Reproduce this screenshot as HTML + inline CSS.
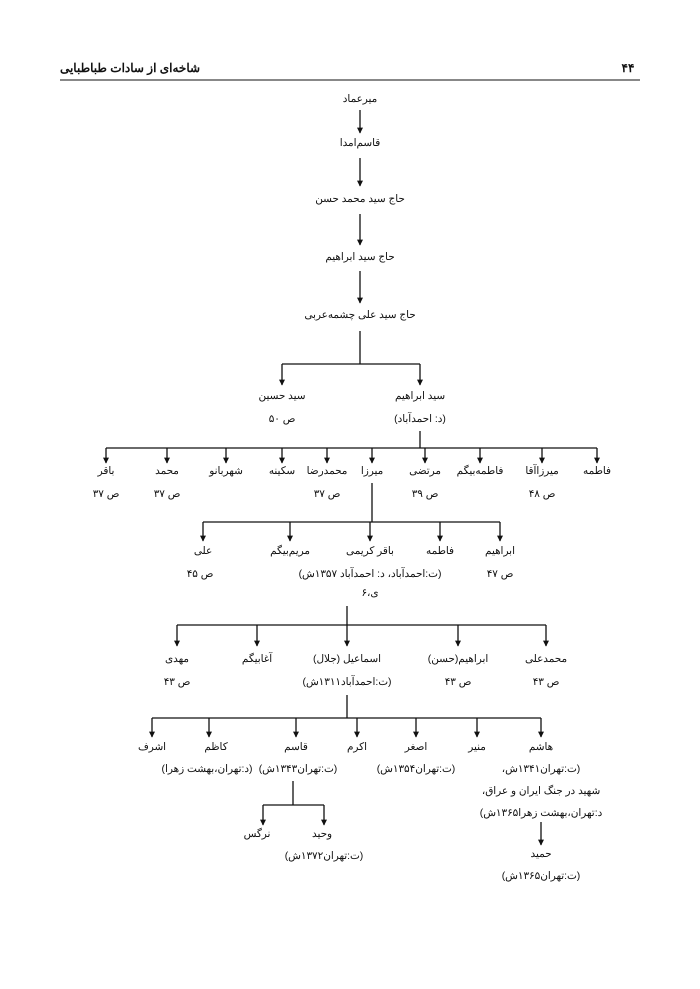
<!DOCTYPE html>
<html><head><meta charset="utf-8"><style>
html,body{margin:0;padding:0;background:#fff;}
body{position:relative;width:700px;height:989px;overflow:hidden;}
svg{display:block;position:absolute;left:0;top:0;}
.t{position:absolute;transform:translate(-50%,-50%);white-space:nowrap;direction:rtl;unicode-bidi:isolate;font-family:"Liberation Sans","Noto Sans CJK SC",sans-serif;font-size:10.4px;color:#111;line-height:1;}
.h{font-weight:bold;font-size:12px;}
line{stroke:#111;stroke-width:1.3;fill:none;}
</style></head><body>
<svg width="700" height="989" viewBox="0 0 700 989" xmlns="http://www.w3.org/2000/svg">
<defs><marker id="a" viewBox="0 0 10 10" refX="9" refY="5" markerWidth="6" markerHeight="8" orient="auto" markerUnits="userSpaceOnUse"><path d="M0,0 L10,5 L0,10 z" fill="#111"/></marker></defs>
<line x1="60" y1="80" x2="640" y2="80" style="stroke-width:1"/>
<line x1="360" y1="110" x2="360" y2="133" marker-end="url(#a)"/>
<line x1="360" y1="158" x2="360" y2="186" marker-end="url(#a)"/>
<line x1="360" y1="214" x2="360" y2="245" marker-end="url(#a)"/>
<line x1="360" y1="271" x2="360" y2="303" marker-end="url(#a)"/>
<line x1="360" y1="331" x2="360" y2="364"/>
<line x1="282" y1="364" x2="420" y2="364"/>
<line x1="282" y1="364" x2="282" y2="385" marker-end="url(#a)"/>
<line x1="420" y1="364" x2="420" y2="385" marker-end="url(#a)"/>
<line x1="420" y1="431" x2="420" y2="448"/>
<line x1="106" y1="448" x2="597" y2="448"/>
<line x1="106" y1="448" x2="106" y2="463" marker-end="url(#a)"/>
<line x1="167" y1="448" x2="167" y2="463" marker-end="url(#a)"/>
<line x1="226" y1="448" x2="226" y2="463" marker-end="url(#a)"/>
<line x1="282" y1="448" x2="282" y2="463" marker-end="url(#a)"/>
<line x1="327" y1="448" x2="327" y2="463" marker-end="url(#a)"/>
<line x1="372" y1="448" x2="372" y2="463" marker-end="url(#a)"/>
<line x1="425" y1="448" x2="425" y2="463" marker-end="url(#a)"/>
<line x1="480" y1="448" x2="480" y2="463" marker-end="url(#a)"/>
<line x1="542" y1="448" x2="542" y2="463" marker-end="url(#a)"/>
<line x1="597" y1="448" x2="597" y2="463" marker-end="url(#a)"/>
<line x1="372" y1="483" x2="372" y2="522"/>
<line x1="203" y1="522" x2="500" y2="522"/>
<line x1="203" y1="522" x2="203" y2="541" marker-end="url(#a)"/>
<line x1="290" y1="522" x2="290" y2="541" marker-end="url(#a)"/>
<line x1="370" y1="522" x2="370" y2="541" marker-end="url(#a)"/>
<line x1="440" y1="522" x2="440" y2="541" marker-end="url(#a)"/>
<line x1="500" y1="522" x2="500" y2="541" marker-end="url(#a)"/>
<line x1="347" y1="606" x2="347" y2="625"/>
<line x1="177" y1="625" x2="546" y2="625"/>
<line x1="177" y1="625" x2="177" y2="646" marker-end="url(#a)"/>
<line x1="257" y1="625" x2="257" y2="646" marker-end="url(#a)"/>
<line x1="347" y1="625" x2="347" y2="646" marker-end="url(#a)"/>
<line x1="458" y1="625" x2="458" y2="646" marker-end="url(#a)"/>
<line x1="546" y1="625" x2="546" y2="646" marker-end="url(#a)"/>
<line x1="347" y1="695" x2="347" y2="718"/>
<line x1="152" y1="718" x2="541" y2="718"/>
<line x1="152" y1="718" x2="152" y2="737" marker-end="url(#a)"/>
<line x1="209" y1="718" x2="209" y2="737" marker-end="url(#a)"/>
<line x1="296" y1="718" x2="296" y2="737" marker-end="url(#a)"/>
<line x1="357" y1="718" x2="357" y2="737" marker-end="url(#a)"/>
<line x1="416" y1="718" x2="416" y2="737" marker-end="url(#a)"/>
<line x1="477" y1="718" x2="477" y2="737" marker-end="url(#a)"/>
<line x1="541" y1="718" x2="541" y2="737" marker-end="url(#a)"/>
<line x1="293" y1="781" x2="293" y2="805"/>
<line x1="263" y1="805" x2="324" y2="805"/>
<line x1="263" y1="805" x2="263" y2="825" marker-end="url(#a)"/>
<line x1="324" y1="805" x2="324" y2="825" marker-end="url(#a)"/>
<line x1="541" y1="822" x2="541" y2="845" marker-end="url(#a)"/>
</svg>

<div class="t h" style="left:130px;top:68px">شاخه‌ای از سادات طباطبایی</div>
<div class="t h" style="left:628px;top:68px">۴۴</div>

<div class="t" style="left:360px;top:100px">میرعماد</div>
<div class="t" style="left:360px;top:144px">قاسم‌امدا</div>
<div class="t" style="left:360px;top:200px">حاج سید محمد حسن</div>
<div class="t" style="left:360px;top:258px">حاج سید ابراهیم</div>
<div class="t" style="left:360px;top:316px">حاج سید علی چشمه‌عربی</div>
<div class="t" style="left:282px;top:397px">سید حسین</div>
<div class="t" style="left:282px;top:420px">ص ۵۰</div>
<div class="t" style="left:420px;top:397px">سید ابراهیم</div>
<div class="t" style="left:420px;top:420px">(د: احمدآباد)</div>

<div class="t" style="left:106px;top:472px">باقر</div><div class="t" style="left:106px;top:495px">ص ۳۷</div>
<div class="t" style="left:167px;top:472px">محمد</div><div class="t" style="left:167px;top:495px">ص ۳۷</div>
<div class="t" style="left:226px;top:472px">شهربانو</div>
<div class="t" style="left:282px;top:472px">سکینه</div>
<div class="t" style="left:327px;top:472px">محمدرضا</div><div class="t" style="left:327px;top:495px">ص ۳۷</div>
<div class="t" style="left:372px;top:472px">میرزا</div>
<div class="t" style="left:425px;top:472px">مرتضی</div><div class="t" style="left:425px;top:495px">ص ۳۹</div>
<div class="t" style="left:480px;top:472px">فاطمه‌بیگم</div>
<div class="t" style="left:542px;top:472px">میرزاآقا</div><div class="t" style="left:542px;top:495px">ص ۴۸</div>
<div class="t" style="left:597px;top:472px">فاطمه</div>

<div class="t" style="left:203px;top:552px">علی</div><div class="t" style="left:200px;top:575px">ص ۴۵</div>
<div class="t" style="left:290px;top:552px">مریم‌بیگم</div>
<div class="t" style="left:370px;top:552px">باقر کریمی</div>
<div class="t" style="left:370px;top:575px">(ت:احمدآباد، د: احمدآباد ۱۳۵۷ش)</div>
<div class="t" style="left:370px;top:594px">ی،۶</div>
<div class="t" style="left:440px;top:552px">فاطمه</div>
<div class="t" style="left:500px;top:552px">ابراهیم</div><div class="t" style="left:500px;top:575px">ص ۴۷</div>

<div class="t" style="left:177px;top:660px">مهدی</div><div class="t" style="left:177px;top:683px">ص ۴۳</div>
<div class="t" style="left:257px;top:660px">آغابیگم</div>
<div class="t" style="left:347px;top:660px">اسماعیل (جلال)</div>
<div class="t" style="left:347px;top:683px">(ت:احمدآباد۱۳۱۱ش)</div>
<div class="t" style="left:458px;top:660px">ابراهیم(حسن)</div><div class="t" style="left:458px;top:683px">ص ۴۳</div>
<div class="t" style="left:546px;top:660px">محمدعلی</div><div class="t" style="left:546px;top:683px">ص ۴۳</div>

<div class="t" style="left:152px;top:748px">اشرف</div>
<div class="t" style="left:216px;top:748px">کاظم</div>
<div class="t" style="left:207px;top:770px">(د:تهران،بهشت زهرا)</div>
<div class="t" style="left:296px;top:748px">قاسم</div>
<div class="t" style="left:298px;top:770px">(ت:تهران۱۳۴۳ش)</div>
<div class="t" style="left:357px;top:748px">اکرم</div>
<div class="t" style="left:416px;top:748px">اصغر</div>
<div class="t" style="left:416px;top:770px">(ت:تهران۱۳۵۴ش)</div>
<div class="t" style="left:477px;top:748px">منیر</div>
<div class="t" style="left:541px;top:748px">هاشم</div>
<div class="t" style="left:541px;top:770px">(ت:تهران۱۳۴۱ش،</div>
<div class="t" style="left:541px;top:792px">شهید در جنگ ایران و عراق،</div>
<div class="t" style="left:541px;top:814px">د:تهران،بهشت زهرا۱۳۶۵ش)</div>

<div class="t" style="left:257px;top:835px">نرگس</div>
<div class="t" style="left:322px;top:835px">وحید</div>
<div class="t" style="left:324px;top:857px">(ت:تهران۱۳۷۲ش)</div>
<div class="t" style="left:541px;top:855px">حمید</div>
<div class="t" style="left:541px;top:877px">(ت:تهران۱۳۶۵ش)</div>
</body></html>
